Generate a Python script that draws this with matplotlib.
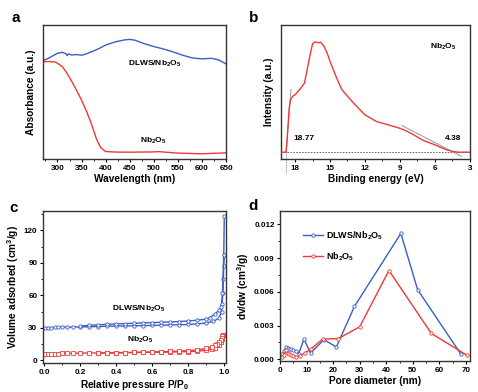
import matplotlib
matplotlib.use('Agg')
import matplotlib.pyplot as plt
from matplotlib.ticker import MultipleLocator, FormatStrFormatter

plt.rcParams['font.family'] = ['Liberation Sans', 'DejaVu Sans']
plt.rcParams['font.weight'] = 'bold'
plt.rcParams['axes.labelweight'] = 'bold'
plt.rcParams['mathtext.fontset'] = 'custom'
plt.rcParams['mathtext.rm'] = 'Liberation Sans:bold'
plt.rcParams['mathtext.bf'] = 'Liberation Sans:bold'
plt.rcParams['mathtext.default'] = 'bf'

BLUE = '#3a5fc4'
RED = '#f03838'

# (a) UV-vis absorbance, normalised
wl_blue = [270, 280, 290, 300, 310, 318, 320, 323, 330, 340, 350, 360, 370, 380, 390, 400,
           420, 440, 450, 460, 480, 500, 520, 540, 560, 580, 600, 620, 635, 650]
abs_blue = [0.735, 0.75, 0.77, 0.79, 0.797, 0.785, 0.772, 0.785, 0.777, 0.78, 0.775, 0.785,
            0.80, 0.815, 0.832, 0.851, 0.875, 0.89, 0.893, 0.888, 0.862, 0.840, 0.822, 0.80,
            0.775, 0.755, 0.748, 0.752, 0.740, 0.71]
wl_red = [270, 285, 295, 300, 310, 320, 330, 340, 350, 360, 370, 380, 385, 390, 400, 420,
          450, 500, 510, 550, 600, 650]
abs_red = [0.727, 0.728, 0.725, 0.715, 0.69, 0.64, 0.578, 0.51, 0.44, 0.36, 0.268, 0.16,
           0.119, 0.085, 0.057, 0.053, 0.052, 0.054, 0.056, 0.045, 0.04, 0.047]

# (b) UPS spectrum of Nb2O5
be = [19.2, 18.9, 18.77, 18.7, 18.6, 18.5, 18.4, 18.2, 18.0, 17.7, 17.5, 17.2, 17.0, 16.8,
      16.5, 16.3, 16.0, 15.8, 15.5, 15.2, 15.0, 14.5, 14.0, 13.5, 13.0, 12.5, 12.0, 11.5, 11.0,
      10.5, 10.0, 9.5, 9.0, 8.5, 8.0, 7.5, 7.0, 6.5, 6.0, 5.5, 5.0, 4.5, 4.0, 3.6, 3.0]
intensity = [0.052, 0.052, 0.053, 0.12, 0.25, 0.38, 0.44, 0.47, 0.48, 0.51, 0.53, 0.566,
             0.65, 0.74, 0.86, 0.875, 0.868, 0.872, 0.84, 0.78, 0.73, 0.62, 0.52, 0.47, 0.42,
             0.375, 0.33, 0.305, 0.28, 0.268, 0.256, 0.243, 0.23, 0.212, 0.19, 0.165, 0.14,
             0.123, 0.107, 0.088, 0.07, 0.058, 0.052, 0.052, 0.052]
onset_vals = [18.77, 4.38]

# (c) N2 isotherms
p_ads_b = [0.005, 0.02, 0.04, 0.06, 0.08, 0.10, 0.13, 0.16, 0.2, 0.25, 0.3, 0.35, 0.4, 0.45,
           0.5, 0.55, 0.6, 0.65, 0.7, 0.75, 0.8, 0.85, 0.9, 0.94, 0.97, 0.985, 0.992, 0.995,
           0.997, 1.0]
v_ads_b = [29.8, 30.0, 30.2, 30.3, 30.4, 30.5, 30.6, 30.7, 30.8, 31.0, 31.2, 31.4, 31.6, 31.7,
           31.9, 32.0, 32.2, 32.4, 32.6, 32.8, 33.1, 33.6, 34.5, 36.0, 39.0, 45.0, 62.0, 75.0,
           87.0, 97.0]
p_des_b = [1.0, 0.997, 0.99, 0.985, 0.98, 0.97, 0.95, 0.92, 0.9, 0.85, 0.8, 0.75, 0.7, 0.65,
           0.6, 0.55, 0.5, 0.45, 0.4, 0.35, 0.3, 0.25, 0.2]
v_des_b = [133, 97, 62, 52, 49, 46, 43, 39.5, 38, 37, 36.3, 35.8, 35.4, 35.1, 34.8, 34.5,
           34.2, 33.9, 33.6, 33.2, 32.8, 32.3, 31.6]
p_ads_r = [0.005, 0.02, 0.04, 0.06, 0.08, 0.10, 0.13, 0.16, 0.2, 0.25, 0.3, 0.35, 0.4, 0.45,
           0.5, 0.55, 0.6, 0.65, 0.7, 0.75, 0.8, 0.85, 0.9, 0.93, 0.95, 0.97, 0.98, 0.99, 0.995]
v_ads_r = [5.6, 5.8, 6.0, 6.1, 6.2, 6.3, 6.4, 6.5, 6.6, 6.7, 6.8, 6.9, 7.0, 7.1, 7.2, 7.3,
           7.4, 7.5, 7.6, 7.8, 8.0, 8.4, 9.2, 10.3, 11.8, 14.0, 16.5, 20.0, 23.5]
p_des_r = [0.995, 0.99, 0.985, 0.98, 0.97, 0.96, 0.95, 0.93, 0.9, 0.85, 0.8, 0.75, 0.7, 0.65,
           0.6, 0.55, 0.5, 0.45, 0.4, 0.35, 0.3]
v_des_r = [23.5, 22.0, 20.5, 19.0, 17.0, 15.5, 14.2, 12.5, 11.0, 9.6, 8.9, 8.5, 8.2, 7.9,
           7.7, 7.5, 7.3, 7.1, 6.9, 6.7, 6.5]

# (d) pore size distribution
d_blue = [0.8, 1.5, 2.2, 2.8, 3.5, 4.2, 5.0, 5.8, 7.0, 9.0, 11.5, 16.5, 21.2, 28.0, 45.5,
          51.8, 68.0]
dv_blue = [0.00045, 0.0007, 0.0011, 0.001, 0.0009, 0.0009, 0.0008, 0.0007, 0.0005, 0.0018,
           0.00055, 0.00175, 0.0011, 0.0047, 0.0112, 0.0062, 0.0005]
d_red = [0.8, 1.5, 2.2, 2.8, 3.5, 4.2, 5.0, 6.0, 7.5, 9.5, 11.5, 16.0, 22.0, 30.0, 41.0,
         57.0, 70.5]
dv_red = [0.0002, 0.0004, 0.0008, 0.0006, 0.0005, 0.0004, 0.0003, 0.00025, 0.0003, 0.0006,
          0.0009, 0.0018, 0.00185, 0.0029, 0.0079, 0.0023, 0.00035]

NB = r'Nb$_2$O$_5$'
DL = r'DLWS/Nb$_2$O$_5$'
LABEL_FS = 7.3

fig = plt.figure(figsize=(4.78, 3.92), dpi=100)
ax_a = fig.add_axes([0.090, 0.594, 0.383, 0.342])
ax_b = fig.add_axes([0.588, 0.594, 0.395, 0.342])
ax_c = fig.add_axes([0.090, 0.074, 0.383, 0.388])
ax_d = fig.add_axes([0.586, 0.079, 0.397, 0.383])


def style(ax):
    for s in ax.spines.values():
        s.set_linewidth(1.0)
        s.set_color('#333333')
    ax.tick_params(which='major', direction='out', length=2.5, width=0.8, labelsize=5.8, pad=1.5)
    ax.tick_params(which='minor', direction='out', length=1.5, width=0.6)
    for lab in ax.get_xticklabels() + ax.get_yticklabels():
        lab.set_fontweight('bold')


# a
ax_a.plot(wl_blue, abs_blue, color=BLUE, lw=1.0)
ax_a.plot(wl_red, abs_red, color=RED, lw=1.0)
ax_a.set_xlim(270, 650)
ax_a.set_ylim(0, 1)
ax_a.set_yticks([])
ax_a.xaxis.set_major_locator(MultipleLocator(50))
ax_a.xaxis.set_minor_locator(MultipleLocator(25))
ax_a.set_xlabel('Wavelength (nm)', fontsize=LABEL_FS, labelpad=2)
ax_a.set_ylabel('Absorbance (a.u.)', fontsize=LABEL_FS, labelpad=5)
ax_a.text(446, 0.70, DL, fontsize=6, fontweight='bold')
ax_a.text(472, 0.12, NB, fontsize=6, fontweight='bold')
style(ax_a)

# b
ax_b.plot(be, intensity, color=RED, lw=1.0, zorder=3)
ax_b.axhline(0.052, color='#555555', lw=0.6, ls=(0, (2, 1.5)), zorder=2)
ax_b.plot([onset_vals[0], onset_vals[0]], [-0.1, 0.052], color='#777777', lw=0.6,
          ls=(0, (1.5, 1.5)), clip_on=False)
ax_b.plot([onset_vals[0], 18.35], [0.052, 0.52], color='#999999', lw=0.7, zorder=2)
ax_b.plot([8.8, 3.7], [0.25, 0.02], color='#999999', lw=0.7, zorder=2)
ax_b.set_xlim(19.2, 3)
ax_b.set_ylim(0, 1)
ax_b.set_yticks([])
ax_b.xaxis.set_major_locator(MultipleLocator(3))
ax_b.xaxis.set_minor_locator(MultipleLocator(1.5))
ax_b.set_xlabel('Binding energy (eV)', fontsize=LABEL_FS, labelpad=2)
ax_b.set_ylabel('Intensity (a.u.)', fontsize=LABEL_FS, labelpad=5)
ax_b.text(18.15, 0.14, '%.2f' % onset_vals[0], fontsize=6, fontweight='bold')
ax_b.text(5.15, 0.14, '%.2f' % onset_vals[1], fontsize=6, fontweight='bold')
ax_b.text(6.45, 0.82, NB, fontsize=6, fontweight='bold')
style(ax_b)

# c
mk = dict(ms=2.4, mfc='white', mew=0.6, lw=1.0)
ax_c.plot(p_ads_b, v_ads_b, color=BLUE, marker='o', **mk)
ax_c.plot(p_des_b, v_des_b, color=BLUE, marker='o', **mk)
ax_c.plot(p_ads_r, v_ads_r, color=RED, marker='s', **mk)
ax_c.plot(p_des_r, v_des_r, color=RED, marker='s', **mk)
ax_c.set_xlim(-0.005, 1.01)
ax_c.set_ylim(-2.5, 138)
ax_c.xaxis.set_major_locator(MultipleLocator(0.2))
ax_c.xaxis.set_minor_locator(MultipleLocator(0.1))
ax_c.xaxis.set_major_formatter(FormatStrFormatter('%.1f'))
ax_c.yaxis.set_major_locator(MultipleLocator(30))
ax_c.yaxis.set_minor_locator(MultipleLocator(15))
ax_c.set_xlabel(r'Relative pressure P/P$_0$', fontsize=LABEL_FS, labelpad=2)
ax_c.set_ylabel(r'Volume adsorbed (cm$^3$/g)', fontsize=LABEL_FS, labelpad=2)
ax_c.text(0.38, 46, DL, fontsize=6, fontweight='bold')
ax_c.text(0.46, 17, NB, fontsize=6, fontweight='bold')
style(ax_c)

# d
ax_d.plot(d_blue, dv_blue, color=BLUE, marker='o', label=DL, **mk)
ax_d.plot(d_red, dv_red, color=RED, marker='o', label=NB, **mk)
ax_d.set_xlim(0, 71.5)
ax_d.set_ylim(-0.00015, 0.0132)
ax_d.xaxis.set_major_locator(MultipleLocator(10))
ax_d.xaxis.set_minor_locator(MultipleLocator(5))
ax_d.yaxis.set_major_locator(MultipleLocator(0.003))
ax_d.yaxis.set_minor_locator(MultipleLocator(0.0015))
ax_d.yaxis.set_major_formatter(FormatStrFormatter('%.3f'))
ax_d.set_xlabel('Pore diameter (nm)', fontsize=LABEL_FS, labelpad=2)
ax_d.set_ylabel(r'dv/dw (cm$^3$/g)', fontsize=LABEL_FS, labelpad=2)
ax_d.legend(loc='upper left', bbox_to_anchor=(0.08, 0.93), frameon=False, fontsize=6.5,
            handlelength=2.2, handletextpad=0.3, labelspacing=0.9)
style(ax_d)

for lbl, x, y in [('a', 0.025, 0.945), ('b', 0.52, 0.945), ('c', 0.02, 0.46), ('d', 0.52, 0.465)]:
    fig.text(x, y, lbl, fontsize=11, fontweight='bold')

fig.savefig('out.png', dpi=100)
